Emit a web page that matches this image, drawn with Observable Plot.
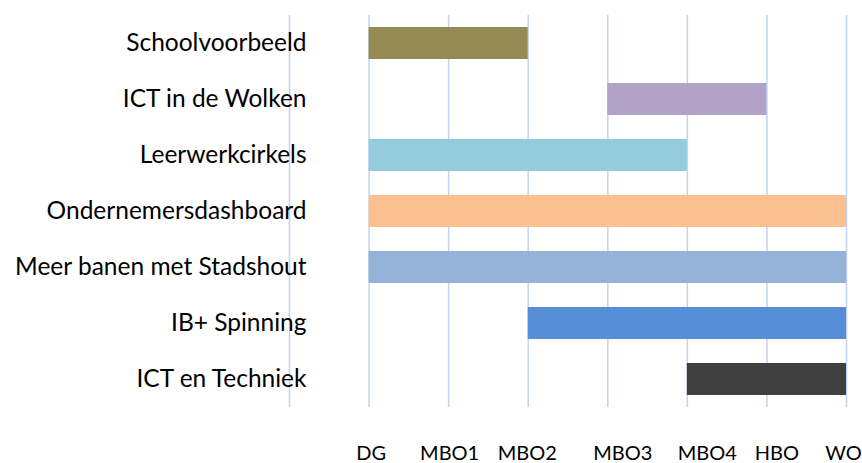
<!DOCTYPE html>
<html>
<head>
<meta charset="utf-8">
<script src="https://cdn.jsdelivr.net/npm/d3@7"></script>
<script src="https://cdn.jsdelivr.net/npm/@observablehq/plot@0.6"></script>
<style>
  html, body { margin: 0; padding: 0; background: #fff; }
  #chart svg { display: block; }
</style>
</head>
<body>
<div id="chart"></div>
<script>
// Education levels along the x axis (index 0 is an unlabeled leading gridline)
const levels = ["", "DG", "MBO1", "MBO2", "MBO3", "MBO4", "HBO", "WO"];

// Projects (top to bottom) with start and end level
const projects = ["Schoolvoorbeeld", "ICT in de Wolken", "Leerwerkcirkels", "Ondernemersdashboard", "Meer banen met Stadshout", "IB+ Spinning", "ICT en Techniek"];
const startLevel = ["DG", "MBO3", "DG", "DG", "DG", "MBO2", "MBO4"];
const endLevel = ["MBO2", "HBO", "MBO4", "WO", "WO", "WO", "WO"];
const barColors = ["#948A54", "#B3A2C7", "#93CDDD", "#FAC090", "#95B3D7", "#558ED5", "#404040"];

const data = projects.map((p, i) => ({
  project: p,
  start: levels.indexOf(startLevel[i]),
  end: levels.indexOf(endLevel[i]),
  color: barColors[i]
}));

// label nudges (style only) for the x labels as drawn in the original
const labelNudge = {"DG": 2, "MBO1": 1, "MBO2": -1, "MBO3": 15, "MBO4": 20, "HBO": 10, "WO": -3};

const font = "Lato, 'Open Sans', sans-serif";
const fsY = 24.5;
const fsX = 20;

const tickIdx = d3.range(1, levels.length);

const chart = Plot.plot({
  width: 862,
  height: 463,
  marginLeft: 289,
  marginRight: 16,
  marginTop: 15,
  marginBottom: 56,
  style: {fontFamily: font, fontSize: fsX + "px", color: "#000", background: "#fff"},
  x: {domain: [0, levels.length - 1], axis: null},
  y: {domain: projects, paddingInner: 0.43, paddingOuter: 0.215, axis: null},
  marks: [
    Plot.ruleX(d3.range(levels.length), {stroke: "#C3D3EF", strokeWidth: 1.5}),
    Plot.barX(data, {x1: "start", x2: "end", y: "project", fill: "color"}),
    Plot.text(projects, {x: 0, y: d => d, text: d => d, textAnchor: "end", dx: 17, fill: "#000", fontSize: fsY}),
    ...tickIdx.map(i => Plot.text([levels[i]], {
      x: () => i, text: d => d, frameAnchor: "bottom", dy: 46, dx: labelNudge[levels[i]],
      fill: "#000", fontSize: fsX, lineAnchor: "middle"
    }))
  ]
});

document.getElementById("chart").appendChild(chart);
</script>
</body>
</html>
